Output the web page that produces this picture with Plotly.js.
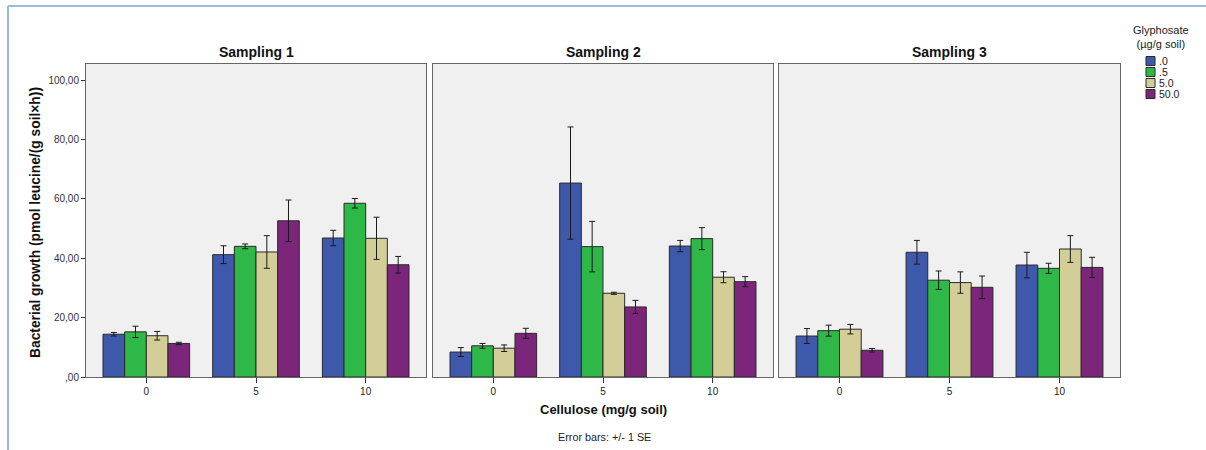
<!DOCTYPE html>
<html><head><meta charset="utf-8">
<script src="https://cdn.plot.ly/plotly-3.0.1.min.js"></script>
<style>html,body{margin:0;padding:0;background:#fff;}#chart{width:1206px;height:450px;}</style>
</head><body><div id="chart"></div>
<script>
// ---- data ----
const categories = ['0', '5', '10'];
const seriesNames = ['.0', '.5', '5.0', '50.0'];
const seriesColors = ['#3E58AC', '#2EB848', '#D3CE97', '#7B267A'];
const panelTitles = ['Sampling 1', 'Sampling 2', 'Sampling 3'];
const yTickVals = [0, 20, 40, 60, 80, 100];
const yTickText = [',00', '20,00', '40,00', '60,00', '80,00', '100,00'];

// values per glyphosate level (rows) across cellulose 0,5,10
const sampling1 = [[14.4, 41.2, 46.8], [15.2, 44.0, 58.5], [13.9, 42.1, 46.7], [11.3, 52.6, 37.8]];
const sampling1SE = [[0.6, 3.0, 2.6], [1.9, 0.8, 1.6], [1.45, 5.5, 7.1], [0.4, 7.0, 2.8]];
const sampling2 = [[8.4, 65.3, 44.1], [10.5, 43.9, 46.6], [9.7, 28.2, 33.6], [14.7, 23.6, 32.1]];
const sampling2SE = [[1.5, 18.9, 1.9], [0.8, 8.5, 3.7], [1.1, 0.35, 1.85], [1.7, 2.2, 1.7]];
const sampling3 = [[13.8, 42.0, 37.7], [15.6, 32.6, 36.6], [16.1, 31.8, 43.1], [9.0, 30.2, 36.9]];
const sampling3SE = [[2.5, 4.0, 4.3], [1.85, 3.1, 1.7], [1.6, 3.6, 4.5], [0.6, 3.8, 3.4]];

const panels = [[sampling1, sampling1SE], [sampling2, sampling2SE], [sampling3, sampling3SE]];

const W = 1206, H = 450;
const px = v => v / W;
const py = v => 1 - v / H;
const panelX = [[86, 426], [433, 773], [779, 1120]];
const yDom = [py(377), py(64)];
const FONT = 'Arial, "Liberation Sans", sans-serif';

const traces = [];
panels.forEach((p, pi) => {
  const suffix = pi === 0 ? '' : String(pi + 1);
  p[0].forEach((vals, si) => {
    traces.push({
      type: 'bar', x: categories, y: vals,
      xaxis: 'x' + suffix, yaxis: 'y' + suffix,
      name: seriesNames[si], showlegend: false,
      marker: {color: seriesColors[si], line: {color: '#2a2a2a', width: 1}},
      error_y: {type: 'data', array: p[1][si], visible: true, color: '#1a1a1a', thickness: 1, width: 3},
      hoverinfo: 'y'
    });
  });
});

const layout = {
  width: W, height: H,
  margin: {l: 0, r: 0, t: 0, b: 0},
  paper_bgcolor: '#ffffff', plot_bgcolor: '#F0F0F0',
  barmode: 'group', bargap: 0.21, bargroupgap: 0,
  font: {family: FONT, color: '#222', size: 10},
  showlegend: false,
  annotations: [], shapes: []
};

panelX.forEach((d, i) => {
  const suffix = i === 0 ? '' : String(i + 1);
  layout['xaxis' + suffix] = {
    domain: [px(d[0]), px(d[1])], anchor: 'y' + suffix, type: 'category',
    range: [-0.55, 2.55], showline: true, mirror: true, linecolor: '#666666', linewidth: 1,
    ticks: 'outside', ticklen: 5, tickcolor: '#333', showgrid: false, zeroline: false,
    tickfont: {family: FONT, size: 10, color: '#222'}, fixedrange: true
  };
  layout['yaxis' + suffix] = {
    domain: yDom, anchor: 'x' + suffix, range: [0, 105.4],
    showline: true, mirror: true, linecolor: '#666666', linewidth: 1,
    showgrid: false, zeroline: false, fixedrange: true,
    tickvals: yTickVals, ticktext: yTickText,
    ticks: i === 0 ? 'outside' : '', ticklen: 4, tickcolor: '#333',
    showticklabels: i === 0,
    tickfont: {family: FONT, size: 10, color: '#333'}
  };
  layout.annotations.push({
    text: '<b>' + panelTitles[i] + '</b>', xref: 'paper', yref: 'paper',
    x: px((d[0] + d[1]) / 2), y: py(52), xanchor: 'center', yanchor: 'middle',
    showarrow: false, font: {family: FONT, size: 14, color: '#111'}
  });
});

// axis titles and note
layout.annotations.push({
  text: '<b>Bacterial growth (pmol leucine/(g soil×h))</b>', xref: 'paper', yref: 'paper',
  x: px(35), y: py(223), textangle: -90, xanchor: 'center', yanchor: 'middle',
  showarrow: false, font: {family: FONT, size: 13.8, color: '#111'}
});
layout.annotations.push({
  text: '<b>Cellulose (mg/g soil)</b>', xref: 'paper', yref: 'paper',
  x: px(603), y: py(409), xanchor: 'center', yanchor: 'middle',
  showarrow: false, font: {family: FONT, size: 13, color: '#111'}
});
layout.annotations.push({
  text: 'Error bars: +/- 1 SE', xref: 'paper', yref: 'paper',
  x: px(604), y: py(437), xanchor: 'center', yanchor: 'middle',
  showarrow: false, font: {family: FONT, size: 10.8, color: '#222'}
});

// legend (built from series arrays)
layout.annotations.push({
  text: 'Glyphosate<br>(µg/g soil)', xref: 'paper', yref: 'paper',
  x: px(1161), y: py(37), xanchor: 'center', yanchor: 'middle',
  showarrow: false, font: {family: FONT, size: 11, color: '#222'}
});
seriesNames.forEach((n, i) => {
  const cy = 61 + i * 11;
  layout.shapes.push({
    type: 'rect', xref: 'paper', yref: 'paper',
    x0: px(1146), x1: px(1155), y0: py(cy + 4.5), y1: py(cy - 4.5),
    fillcolor: seriesColors[i], line: {color: '#2a2a2a', width: 1}
  });
  layout.annotations.push({
    text: n, xref: 'paper', yref: 'paper', x: px(1157), y: py(cy),
    xanchor: 'left', yanchor: 'middle', showarrow: false,
    font: {family: FONT, size: 10.5, color: '#222'}
  });
});

// outer frame
layout.shapes.push({type: 'line', xref: 'paper', yref: 'paper', x0: px(8), x1: px(8), y0: 0, y1: py(6),
  line: {color: '#9DB9DD', width: 2}});
layout.shapes.push({type: 'line', xref: 'paper', yref: 'paper', x0: px(8), x1: 1, y0: py(6), y1: py(6),
  line: {color: '#9DB9DD', width: 2}});

Plotly.newPlot('chart', traces, layout, {displayModeBar: false, staticPlot: true});
</script>
</body></html>
